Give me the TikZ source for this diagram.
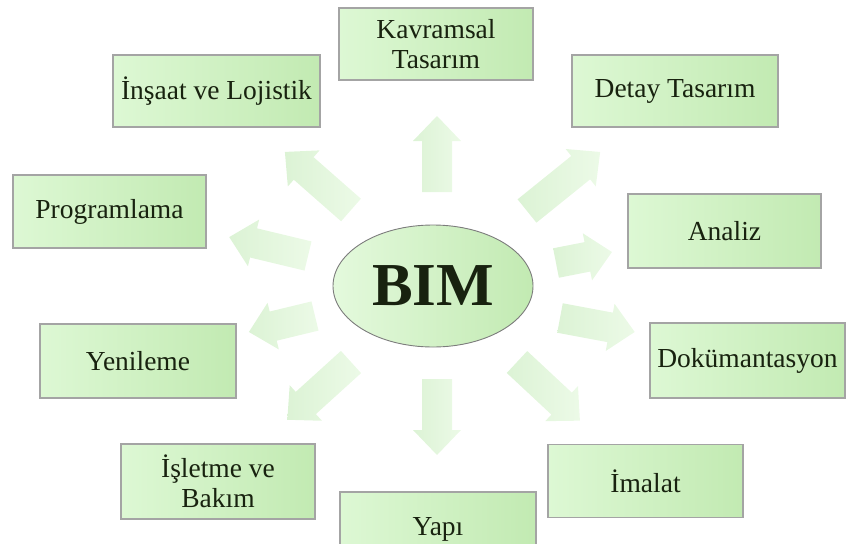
\documentclass[tikz,border=0pt]{standalone}
\usepackage{fontspec}
\setmainfont{Liberation Serif}
\usetikzlibrary{shapes.geometric}
\definecolor{txt}{HTML}{18220F}
\definecolor{boxL}{HTML}{DDF8D4}
\definecolor{boxR}{HTML}{C2EAB2}
\definecolor{boxBorder}{HTML}{A4A4A4}
\definecolor{ellBorder}{HTML}{7C7C7C}
\definecolor{arrA}{HTML}{ECFAE7}
\definecolor{arrB}{HTML}{DCF3D5}
\tikzset{
  stepbox/.style={rectangle, draw=boxBorder, line width=1.1pt, left color=boxL, right color=boxR,
    minimum width=194pt, minimum height=73pt, inner sep=2pt, text=txt, align=center,
    font=\fontsize{27.5}{30}\selectfont},
  bimnode/.style={ellipse, draw=ellBorder, line width=0.9pt, left color=boxL!80!white, right color=boxR,
    minimum width=200pt, minimum height=122pt, inner sep=0pt, text=txt,
    font=\fontsize{61}{61}\selectfont\bfseries},
  blockarr/.style={left color=arrB, right color=arrA, draw=none}
}
\newcommand\blockarrow[4]{%
  \begin{scope}[shift={(#1,#2)},rotate=#3]
    \shade[blockarr] (0,-15) -- ({#4-25},-15) -- ({#4-25},-24) -- (#4,0) -- ({#4-25},24) -- ({#4-25},15) -- (0,15) -- cycle;
  \end{scope}}
\begin{document}
\begin{tikzpicture}[x=1pt,y=-1pt]
\useasboundingbox (0,0) rectangle (850,543);
\clip (0,0) rectangle (850,543);
% block arrows
\blockarrow{437}{192}{90}{76}
\blockarrow{351}{210}{138.7}{88}
\blockarrow{527}{211}{38.9}{94}
\blockarrow{556}{263}{11.1}{57}
\blockarrow{560}{318}{-10.6}{76}
\blockarrow{517}{362}{-43}{86}
\blockarrow{437}{379}{-90}{76}
\blockarrow{351}{362}{-137.8}{86}
\blockarrow{315}{316}{-166.4}{68}
\blockarrow{308}{256}{166.5}{81}
% center
\node[bimnode] (bim) at (433,286) {BIM};
% boxes
\node[stepbox, minimum width=194pt, minimum height=72pt] (kav) at (436,44) {Kavramsal\\Tasarım};
\node[stepbox, minimum width=207pt, minimum height=72pt] (ins) at (216.5,91) {İnşaat ve Lojistik};
\node[stepbox, minimum width=206pt, minimum height=72pt] (det) at (675,91) {Detay Tasarım};
\node[stepbox, minimum width=193pt, minimum height=73pt] (prog) at (109.5,211.5) {Programlama};
\node[stepbox, minimum width=193pt, minimum height=74pt] (anl) at (724.5,231) {Analiz};
\node[stepbox, minimum width=196pt, minimum height=74pt] (yen) at (138,361) {Yenileme};
\node[stepbox, minimum width=195pt, minimum height=75pt] (dok) at (747.5,360.5) {Dokümantasyon};
\node[stepbox, minimum width=194pt, minimum height=75pt] (isl) at (218,481.5) {İşletme ve\\Bakım};
\node[stepbox, minimum width=196pt, minimum height=74pt] (yapi) at (438,529) {Yapı};
\node[stepbox, minimum width=195pt, minimum height=73pt] (ima) at (645.5,481) {İmalat};
\end{tikzpicture}
\end{document}
